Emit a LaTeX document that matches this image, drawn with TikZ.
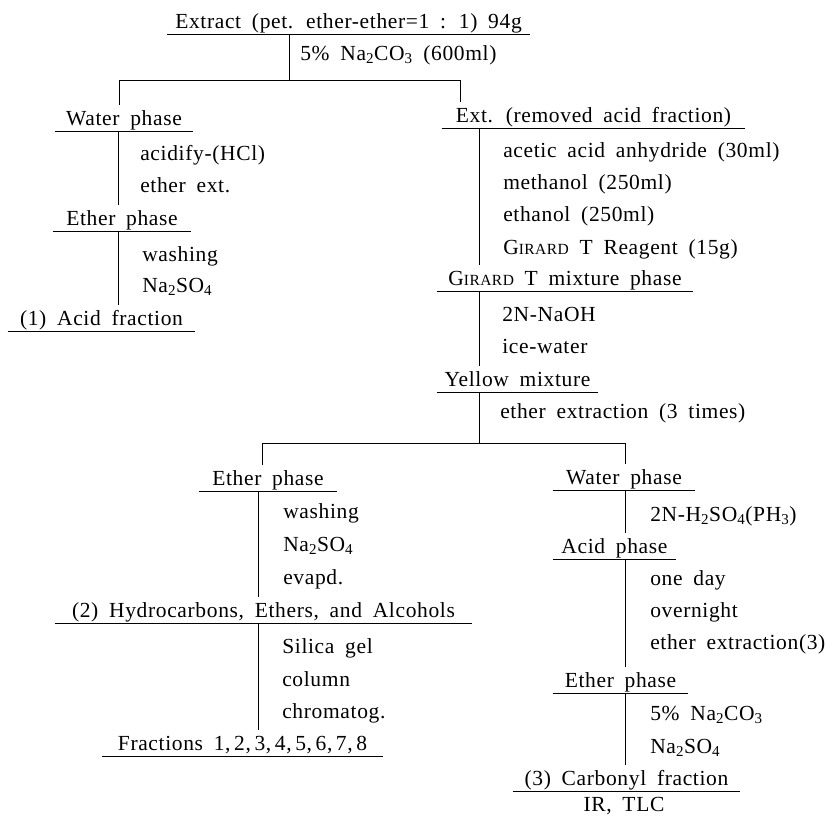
\documentclass[tikz,border=0pt]{standalone}
\usepackage{fontspec}
\setmainfont[LetterSpace = 3]{Liberation Serif}
\newcommand\chartfont{\fontsize{21.5}{25}\selectfont\spaceskip=0.5em plus 0.1em\relax}
\newcommand\sub[1]{\textsubscript{#1}}
\newcommand\girard{G{\fontsize{15.5}{16}\selectfont IRARD}}
\begin{document}
\begin{tikzpicture}[
        x = 1pt, y = -1pt,
        line width = 0.6pt,
        every node/.style = {inner sep = 0pt, font = \chartfont},
        stage/.style = {anchor = base, text height = 14pt, text depth = 0pt,
            inner ysep = 5.5pt, minimum width = #1,
            append after command = {(\tikzlastnode.south west) edge (\tikzlastnode.south east)}},
        treat/.style = {anchor = base west},
    ]
    \useasboundingbox (0, 0) rectangle (839, 815);

    \node[stage = 363pt] (extract) at (348.5, 28) {Extract (pet. ether-ether=1 : 1) 94g};
    \node[treat] (soda) at (300, 60) {5\% Na\sub{2}CO\sub{3} (600ml)};
    \coordinate (forkA) at (119, 80);
    \coordinate (forkB) at (460, 80);

    \begin{scope}
        \node[stage = 138pt] (water) at (124, 125) {Water phase};
        \node[treat] (acidify) at (140, 160) {acidify-(HCl)};
        \node[treat] (etherext) at (140, 192) {ether ext.};
        \node[stage = 138pt] (ether) at (122, 225) {Ether phase};
        \node[treat] (washA) at (142, 261) {washing};
        \node[treat] (sulfA) at (142, 292) {Na\sub{2}SO\sub{4}};
        \node[stage = 187pt] (acid) at (101.5, 325) {(1)~Acid fraction};
    \end{scope}

    \begin{scope}
        \node[stage = 303pt] (ext) at (593.5, 122) {Ext. (removed acid fraction)};
        \node[treat] (acetic) at (503, 157) {acetic acid anhydride (30ml)};
        \node[treat] (methanol) at (503, 189) {methanol (250ml)};
        \node[treat] (ethanol) at (503, 221) {ethanol (250ml)};
        \node[treat] (reagent) at (503, 254) {\girard{} T Reagent (15g)};
        \node[stage = 256pt] (girard) at (565, 285) {\girard{} T mixture phase};
        \node[treat] (naoh) at (502, 321) {2N-NaOH};
        \node[treat] (ice) at (502, 353) {ice-water};
        \node[stage = 161pt] (yellow) at (517.5, 386) {Yellow mixture};
        \node[treat] (extr) at (500, 418) {ether extraction (3 times)};
    \end{scope}
    \coordinate (forkC) at (262, 443);
    \coordinate (forkD) at (625, 443);

    \begin{scope}
        \node[stage = 138pt] (etherB) at (268, 485) {Ether phase};
        \node[treat] (washB) at (283, 518) {washing};
        \node[treat] (sulfB) at (283, 551) {Na\sub{2}SO\sub{4}};
        \node[treat] (evapd) at (283, 584) {evapd.};
        \node[stage = 417pt] (hydro) at (263.5, 617) {(2)~Hydrocarbons, Ethers, and Alcohols};
        \node[treat] (silica) at (282, 653) {Silica gel};
        \node[treat] (column) at (282, 686) {column};
        \node[treat] (chrom) at (282, 718) {chromatog.};
        \node[stage = 281pt] (fractions) at (242.5, 750) {Fractions 1,\,2,\,3,\,4,\,5,\,6,\,7,\,8};
    \end{scope}

    \begin{scope}
        \node[stage = 142pt] (waterB) at (624, 484) {Water phase};
        \node[treat] (sulfuric) at (650, 521) {2N-H\sub{2}SO\sub{4}(PH\sub{3})};
        \node[stage = 123pt] (acidB) at (614.5, 553) {Acid phase};
        \node[treat] (day) at (650, 585) {one day};
        \node[treat] (night) at (650, 617) {overnight};
        \node[treat] (extrB) at (650, 649) {ether extraction(3)};
        \node[stage = 135pt] (etherC) at (620.5, 687) {Ether phase};
        \node[treat] (sodaB) at (650, 720) {5\% Na\sub{2}CO\sub{3}};
        \node[treat] (sulfC) at (650, 753) {Na\sub{2}SO\sub{4}};
        \node[stage = 227pt] (carbonyl) at (626.5, 785) {(3)~Carbonyl fraction};
        \node[treat, anchor = base] (ir) at (624, 811) {IR, TLC};
    \end{scope}

    \coordinate (spA) at (289, 0);
    \coordinate (spB) at (118, 0);
    \coordinate (spC) at (479, 0);
    \coordinate (spD) at (258, 0);
    \coordinate (spE) at (625, 0);

    \draw
        (extract.south -| spA) -- (forkA -| spA)
        (forkA) -- (forkB)
        (forkA) -- (water.north -| forkA)
        (forkB) -- (ext.north -| forkB)
        (yellow.south -| spC) -- (forkC -| spC)
        (forkC) -- (forkD)
        (forkC) -- (etherB.north -| forkC)
        (forkD) -- (waterB.north -| forkD)
        ;
    \foreach \a/\b/\s in {water/ether/spB, ether/acid/spB, ext/girard/spC, girard/yellow/spC,
            etherB/hydro/spD, hydro/fractions/spD,
            waterB/acidB/spE, acidB/etherC/spE, etherC/carbonyl/spE} {
        \draw (\a.south -| \s) -- (\b.north -| \s);
    }
\end{tikzpicture}
\end{document}
